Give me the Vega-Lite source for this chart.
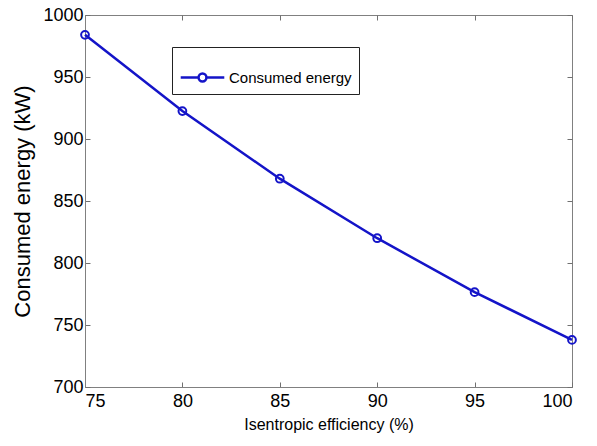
{
  "$schema": "https://vega.github.io/schema/vega-lite/v6.json",
  "width": 487,
  "height": 372,
  "autosize": {"type": "none"},
  "padding": {"left": 85, "top": 15, "right": 25, "bottom": 59},
  "background": "white",
  "config": {
    "font": "Liberation Sans",
    "view": {"stroke": "#808080", "strokeWidth": 1},
    "axis": {"grid": false, "domainColor": "#808080", "tickColor": "#707070", "tickWidth": 1, "labelColor": "black", "titleColor": "black", "labelFont": "Liberation Sans", "titleFont": "Liberation Sans", "titleFontWeight": "normal"}
  },
  "data": {
    "values": [
      {"eff": 75, "energy": 984, "series": "Consumed energy"},
      {"eff": 80, "energy": 922.5, "series": "Consumed energy"},
      {"eff": 85, "energy": 868, "series": "Consumed energy"},
      {"eff": 90, "energy": 820, "series": "Consumed energy"},
      {"eff": 95, "energy": 776.5, "series": "Consumed energy"},
      {"eff": 100, "energy": 738, "series": "Consumed energy"}
    ]
  },
  "layer": [
    {
      "mark": {"type": "line", "strokeWidth": 2.5},
      "encoding": {
        "x": {"field": "eff", "type": "quantitative", "scale": {"domain": [75, 100], "nice": false},
          "axis": {"orient": "bottom", "title": "Isentropic efficiency (%)", "values": [75, 80, 85, 90, 95, 100], "format": "d", "tickSize": -5, "labelPadding": 10, "labelFontSize": 18, "titleFontSize": 16, "titlePadding": 6}},
        "y": {"field": "energy", "type": "quantitative", "scale": {"domain": [700, 1000], "nice": false, "zero": false},
          "axis": {"orient": "left", "title": "Consumed energy (kW)", "values": [700, 750, 800, 850, 900, 950, 1000], "format": "d", "tickSize": -5, "labelPadding": 7, "labelFontSize": 18, "titleFontSize": 22, "titlePadding": 8}},
        "color": {"field": "series", "type": "nominal", "scale": {"range": ["#1414c8"]},
          "legend": {"title": null, "orient": "none", "legendX": 87, "legendY": 32, "padding": 7, "strokeColor": "#222", "fillColor": "white",
            "labelFontSize": 15, "labelColor": "black", "labelFont": "Liberation Sans",
            "symbolType": "M -1 0 L -0.18 0 M 0.18 0 L 1 0 M 0.18 0 A 0.18 0.18 0 1 1 -0.18 0 A 0.18 0.18 0 1 1 0.18 0",
            "symbolSize": 1900, "symbolStrokeWidth": 2.5, "symbolFillColor": "transparent", "symbolStrokeColor": "#1414c8", "symbolOpacity": 1, "labelOffset": 3}}
      }
    },
    {
      "mark": {"type": "point", "shape": "circle", "filled": false, "size": 60, "strokeWidth": 2, "opacity": 1},
      "encoding": {
        "x": {"field": "eff", "type": "quantitative", "axis": {"orient": "top", "title": null, "labels": false, "domain": false, "values": [75, 80, 85, 90, 95, 100], "tickSize": -5}},
        "y": {"field": "energy", "type": "quantitative", "axis": {"orient": "right", "title": null, "labels": false, "domain": false, "values": [700, 750, 800, 850, 900, 950, 1000], "tickSize": -5}},
        "color": {"field": "series", "type": "nominal", "legend": null}
      }
    }
  ],
  "resolve": {"axis": {"x": "independent", "y": "independent"}}
}
